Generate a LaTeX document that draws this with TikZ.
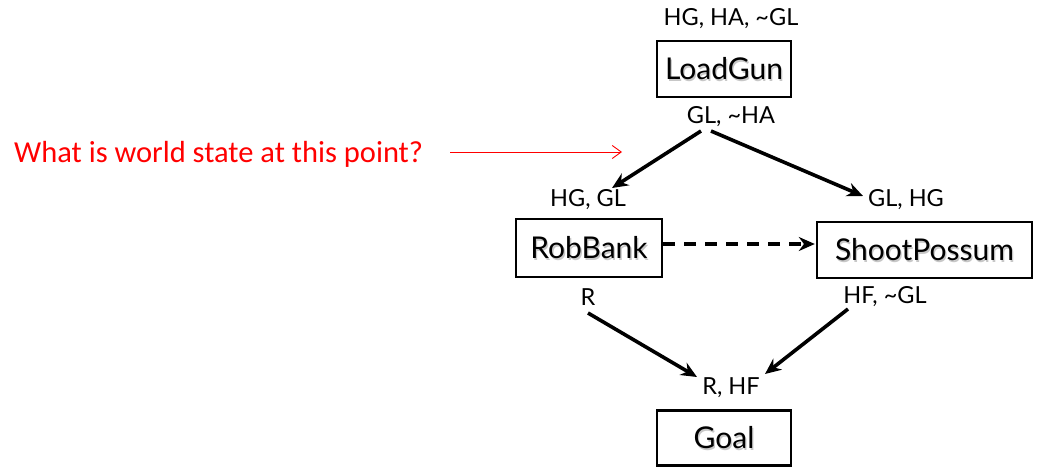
\documentclass[tikz,border=0pt]{standalone}
\usepackage{fontspec}
\setmainfont{Lato}
\newfontfamily\notefont{Carlito}
\usetikzlibrary{arrows.meta}
\tikzset{
  x=1pt, y=-1pt,
  action/.style={draw, line width=2.4pt, inner sep=0pt},
  actfont/.style={font=\fontsize{30}{34}\selectfont},
  cond/.style={inner sep=1pt, font=\fontsize{23.5}{27}\selectfont},
  link/.style={line width=3.6pt, -{Stealth[length=16pt,width=14pt]}},
  order/.style={link, dash pattern=on 12pt off 9pt},
  note/.style={red, font=\notefont\fontsize{30.5}{34}\selectfont, inner sep=0pt},
}
% action box with a soft shadow behind its name
\newcommand\actbox[4]{%
  \node[action, minimum width=#3, minimum height=#4] (#1) at (#2) {};
  \node[actfont, text=black!22] at ([xshift=1.3pt,yshift=-1.8pt]#1.center) {#1};
  \node[actfont] at (#1.center) {#1};
}
\begin{document}
\begin{tikzpicture}
\useasboundingbox (0,0) rectangle (1038,469);
\actbox{LoadGun}{724,69}{134pt}{56pt}
\actbox{RobBank}{589,248}{146pt}{58pt}
\actbox{ShootPossum}{924.5,250}{215pt}{56pt}
\actbox{Goal}{724,438}{134pt}{55pt}

\node[cond] (lgpre)  at (731,19)  {HG, HA, \textasciitilde GL};
\node[cond] (lgpost) at (731,117) {GL, \textasciitilde HA};
\node[cond] (rbpre)  at (588,200) {HG, GL};
\node[cond] (sppre)  at (906,200) {GL, HG};
\node[cond] (rbpost) at (588,297) {R};
\node[cond] (sppost) at (885,297) {HF, \textasciitilde GL};
\node[cond] (gpre)   at (731,388) {R, HF};

\coordinate (lgL) at (701,131);
\coordinate (lgR) at (711,131);
\coordinate (rbIn) at (612,188);
\coordinate (spIn) at (863,196);
\coordinate (rbOut) at (588,313);
\coordinate (spOut) at (848,309);
\coordinate (gInL) at (697,377);
\coordinate (gInR) at (765,374);

\draw[link] (lgL) -- (rbIn);
\draw[link] (lgR) -- (spIn);
\draw[link] (rbOut) -- (gInL);
\draw[link] (spOut) -- (gInR);
\draw[order] (RobBank.east |- 0,244) -- ([xshift=-1pt]ShootPossum.west |- 0,244);

\node[note, anchor=west] (q) at (14,154) {What is world state at this point?};
\coordinate (qTip) at (622,152);
\draw[red, line width=0.9pt, -{Straight Barb[length=9pt,width=13pt,line width=0.9pt]}] (450,152) -- (qTip);
\end{tikzpicture}
\end{document}
